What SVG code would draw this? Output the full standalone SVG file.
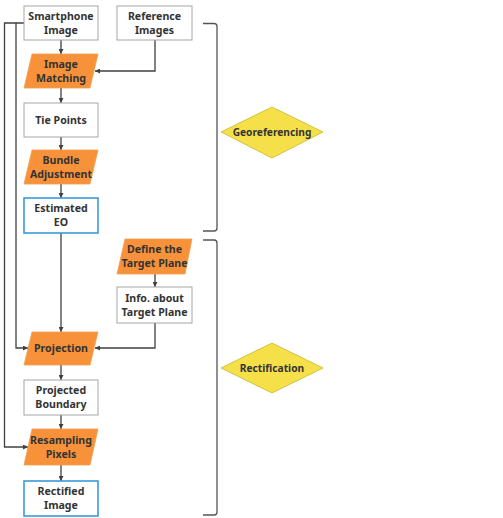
<svg xmlns="http://www.w3.org/2000/svg" width="503" height="518" viewBox="0 0 503 518">
<defs>
<style>
.box{fill:#fff;stroke:#a6a6a6;stroke-width:1}
.blue{fill:#fff;stroke:#3a9ad9;stroke-width:1.6}
.para{fill:#f7923a;stroke:#f0a050;stroke-width:0.8}
.dia{fill:#f5e04a;stroke:#c8b830;stroke-width:0.8}
.t{font-family:"Noto Sans","Liberation Sans",sans-serif;font-weight:bold;font-size:10.6px;fill:#333;text-anchor:middle}
.d{font-size:10.2px}
.c{fill:none;stroke:#404040;stroke-width:1.3}
.br{fill:none;stroke:#555;stroke-width:1.3}
</style>
<marker id="ah" viewBox="0 0 6 6" refX="6" refY="3" markerWidth="5" markerHeight="5" orient="auto" markerUnits="userSpaceOnUse">
<path d="M0,0 L6,3 L0,6 z" fill="#404040"/>
</marker>
</defs>
<rect width="503" height="518" fill="#fff"/>
<g id="connectors">
<path class="c" d="M61,40 V54" marker-end="url(#ah)"/>
<path class="c" d="M155,40 V71 H95" marker-end="url(#ah)"/>
<path class="c" d="M61,88 V103" marker-end="url(#ah)"/>
<path class="c" d="M61,137 V150" marker-end="url(#ah)"/>
<path class="c" d="M61,184 V198" marker-end="url(#ah)"/>
<path class="c" d="M61,233 V332" marker-end="url(#ah)"/>
<path class="c" d="M155,274 V287" marker-end="url(#ah)"/>
<path class="c" d="M155,323 V348 H95" marker-end="url(#ah)"/>
<path class="c" d="M24,23 H4.5 V447 H28" marker-end="url(#ah)"/>
<path class="c" d="M16,23 V348 H28" marker-end="url(#ah)"/>
<path class="c" d="M61,365 V380" marker-end="url(#ah)"/>
<path class="c" d="M61,415 V429" marker-end="url(#ah)"/>
<path class="c" d="M61,465 V481" marker-end="url(#ah)"/>
</g>
<g id="smartphone"><rect class="box" x="24" y="6" width="74" height="34"/><text class="t" x="61" y="20">Smartphone</text><text class="t" x="61" y="34">Image</text></g>
<g id="reference"><rect class="box" x="117" y="6" width="75" height="34"/><text class="t" x="154.5" y="20">Reference</text><text class="t" x="154.5" y="34">Images</text></g>
<g id="matching"><polygon class="para" points="32,54 98,54 90,88 24,88"/><text class="t" x="61" y="68">Image</text><text class="t" x="61" y="82">Matching</text></g>
<g id="tiepoints"><rect class="box" x="24" y="103" width="74" height="34"/><text class="t" x="61" y="124">Tie Points</text></g>
<g id="bundle"><polygon class="para" points="32,150 98,150 90,184 24,184"/><text class="t" x="61" y="164">Bundle</text><text class="t" x="61" y="178">Adjustment</text></g>
<g id="eo"><rect class="blue" x="24" y="198" width="74" height="35"/><text class="t" x="61" y="212">Estimated</text><text class="t" x="61" y="226">EO</text></g>
<g id="define"><polygon class="para" points="125,239 192,239 185,274 117,274"/><text class="t" x="154.5" y="253">Define the</text><text class="t" x="154.5" y="267">Target Plane</text></g>
<g id="info"><rect class="box" x="117" y="287" width="75" height="36"/><text class="t" x="154.5" y="302">Info. about</text><text class="t" x="154.5" y="316">Target Plane</text></g>
<g id="projection"><polygon class="para" points="32,332 98,332 90,365 24,365"/><text class="t" x="61" y="352">Projection</text></g>
<g id="boundary"><rect class="box" x="24" y="380" width="74" height="35"/><text class="t" x="61" y="394">Projected</text><text class="t" x="61" y="408">Boundary</text></g>
<g id="resampling"><polygon class="para" points="32,429 98,429 90,465 24,465"/><text class="t" x="61" y="444">Resampling</text><text class="t" x="61" y="458">Pixels</text></g>
<g id="rectified"><rect class="blue" x="24" y="481" width="74" height="35"/><text class="t" x="61" y="495">Rectified</text><text class="t" x="61" y="509">Image</text></g>
<g id="bracket-geo"><path class="br" d="M203,23.5 H214 Q217,23.5 217,26.5 V228 Q217,231 214,231 H203"/></g>
<g id="bracket-rect"><path class="br" d="M203,240 H214 Q217,240 217,243 V512 Q217,515 214,515 H203"/></g>
<g id="georeferencing"><polygon class="dia" points="272,107 323,132 272,158 221,132"/><text class="t d" x="272" y="136">Georeferencing</text></g>
<g id="rectification"><polygon class="dia" points="272,343 323,368 272,393 221,368"/><text class="t d" x="272" y="372">Rectification</text></g>
</svg>
